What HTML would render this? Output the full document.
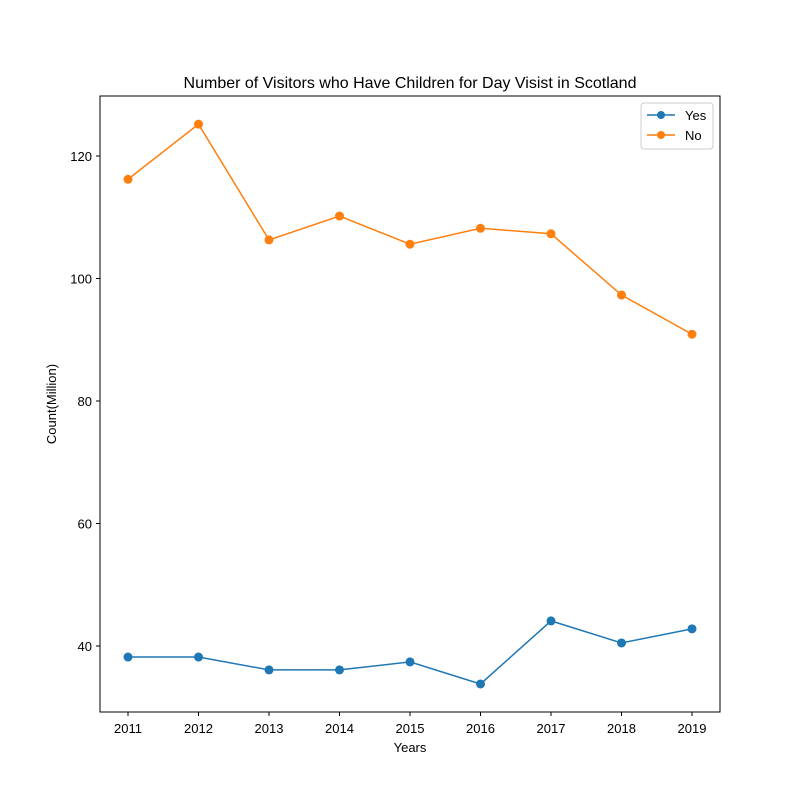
<!DOCTYPE html>
<html><head><meta charset="utf-8"><style>
body{margin:0;background:#fff;}
svg{font-family:"Liberation Sans","DejaVu Sans",sans-serif;}
</style></head><body>
<svg id="chart" width="800" height="800" xmlns="http://www.w3.org/2000/svg">
<rect width="800" height="800" fill="#fff"/>
<text x="410" y="88" font-size="16" text-anchor="middle">Number of Visitors who Have Children for Day Visist in Scotland</text>
<g id="axes"></g>
<g id="series"></g>
<rect x="100" y="96" width="620" height="616" fill="none" stroke="#000" stroke-width="1"/>
<text x="410" y="752" font-size="13" text-anchor="middle">Years</text>
<text transform="translate(56,404) rotate(-90)" font-size="13" text-anchor="middle">Count(Million)</text>
<g>
<rect x="641" y="103" width="72" height="46" rx="3" fill="#fff" stroke="#ccc"/>
<g>
<line x1="647" y1="115" x2="675" y2="115" stroke="#1f77b4" stroke-width="1.5"/>
<circle cx="661" cy="115" r="4" fill="#1f77b4"/>
<text x="685" y="120" font-size="13">Yes</text></g>
<g>
<line x1="647" y1="135" x2="675" y2="135" stroke="#ff7f0e" stroke-width="1.5"/>
<circle cx="661" cy="135" r="4" fill="#ff7f0e"/>
<text x="685" y="140" font-size="13">No</text></g>
</g>
</svg>
<script>
const years=[2011,2012,2013,2014,2015,2016,2017,2018,2019];
const yesValues=[38.2,38.2,36.1,36.1,37.4,33.8,44.1,40.5,42.8];
const noValues=[116.2,125.2,106.3,110.2,105.6,108.2,107.3,97.3,90.9];
const yTicks=[40,60,80,100,120];
const NS='http://www.w3.org/2000/svg';
function xs(i){return 128+i*(692-128)/(years.length-1);}
function ys(v){return 646-(v-40)*6.125;}
function mk(t,a,p){const e=document.createElementNS(NS,t);for(const k in a)e.setAttribute(k,a[k]);p.appendChild(e);return e;}
const ax=document.getElementById('axes');
years.forEach((y,i)=>{
 const l=mk('line',{x1:xs(i),x2:xs(i),y1:712,y2:716,stroke:'#000'},ax);
 
 
 const t=mk('text',{x:xs(i),y:733,'font-size':13,'text-anchor':'middle'},ax);t.textContent=y;
 
 
});
yTicks.forEach(v=>{
 const l=mk('line',{x1:96,x2:100,y1:ys(v),y2:ys(v),stroke:'#000'},ax);
 
 
 const t=mk('text',{x:92,y:ys(v)+5,'font-size':13,'text-anchor':'end'},ax);t.textContent=v;
 
 
});
const sg=document.getElementById('series');
[[yesValues,'#1f77b4','yes'],[noValues,'#ff7f0e','no']].forEach(([vals,c,n])=>{
 const p=mk('polyline',{points:vals.map((v,i)=>xs(i)+','+ys(v)).join(' '),fill:'none',stroke:c,'stroke-width':1.5},sg);
 
 
 vals.forEach((v,i)=>{
  const m=mk('circle',{cx:xs(i),cy:ys(v),r:4.5,fill:c},sg);
  
  
 });
});
</script>
</body></html>
